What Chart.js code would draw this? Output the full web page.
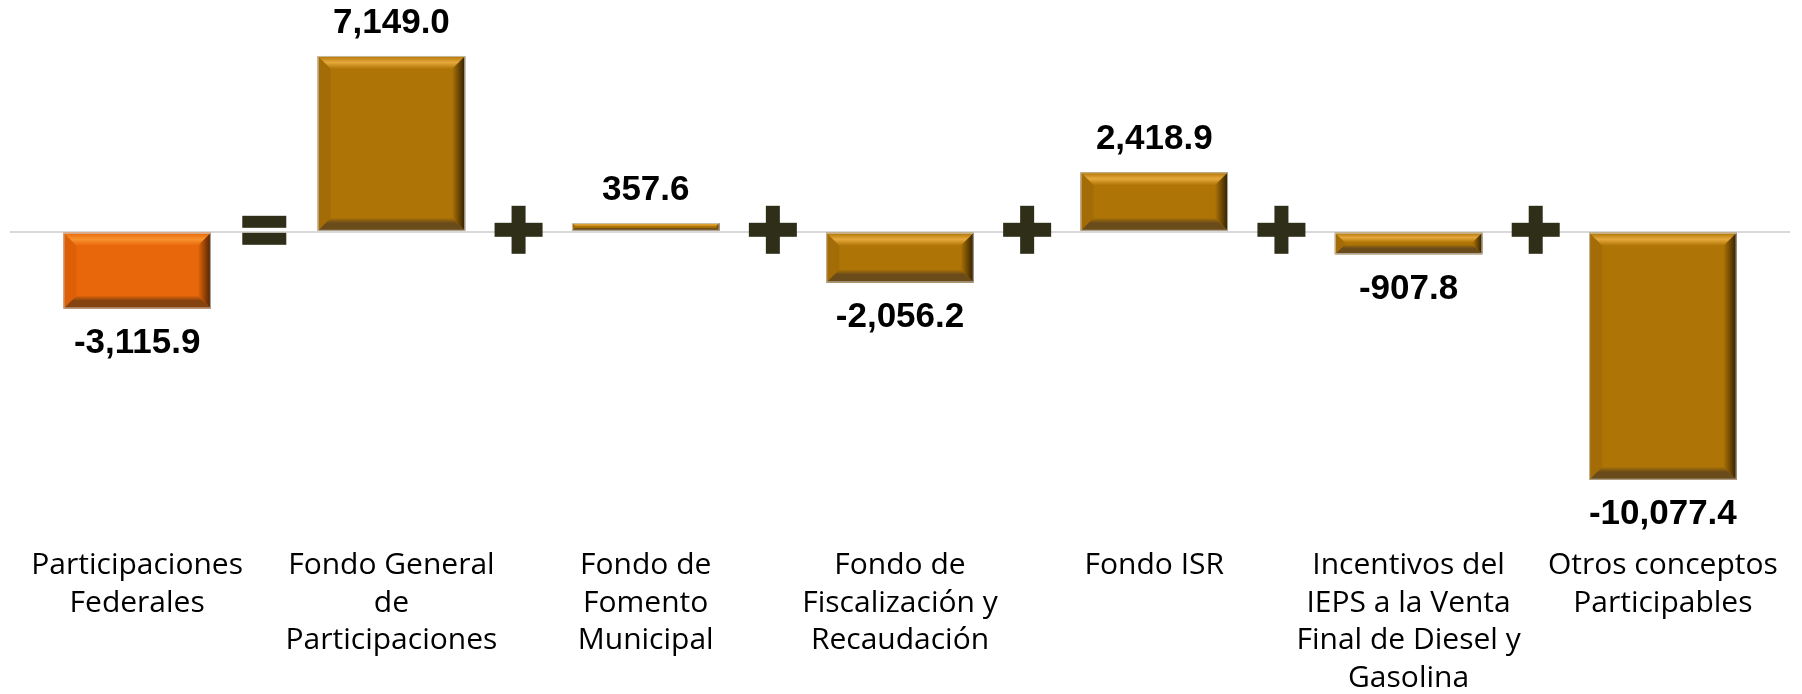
<!DOCTYPE html>
<html><head><meta charset="utf-8">
<script src="https://cdn.jsdelivr.net/npm/chart.js@4.4.0/dist/chart.umd.min.js"></script>
<style>
  html, body { margin: 0; padding: 0; background: #fff; }
  #wrap { position: relative; width: 1802px; height: 694px; }
</style>
</head>
<body>
<div id="wrap"><canvas id="myChart" width="1802" height="694"></canvas></div>
<script>
var categories = [
  ['Participaciones', 'Federales'],
  ['Fondo General', 'de', 'Participaciones'],
  ['Fondo de', 'Fomento', 'Municipal'],
  ['Fondo de', 'Fiscalización y', 'Recaudación'],
  ['Fondo ISR'],
  ['Incentivos del', 'IEPS a la Venta', 'Final de Diesel y', 'Gasolina'],
  ['Otros conceptos', 'Participables']
];
var values = [-3115.9, 7149.0, 357.6, -2056.2, 2418.9, -907.8, -10077.4];
var operators = ['=', '+', '+', '+', '+', '+'];

// bar looks: first bar is the total (orange), the rest are the components
var looks = {
  total: { body: '#E8670A', top: '#F8922E', bottom: '#85430F', right: '#4A2204', left: '#DD6008' },
  part:  { body: '#AE7405', top: '#E6A83C', bottom: '#6A4B1A', right: '#2E1E04', left: '#A46C06' }
};
function lookOf(i) { return i === 0 ? looks.total : looks.part; }

function fmt(v) {
  return v.toLocaleString('en-US', { minimumFractionDigits: 1, maximumFractionDigits: 1 });
}

var bevelPlugin = {
  id: 'bevel',
  afterDatasetsDraw: function (chart) {
    var ctx = chart.ctx;
    var meta = chart.getDatasetMeta(0);
    meta.data.forEach(function (bar, i) {
      var p = bar.getProps(['x', 'y', 'base', 'width'], true);
      var l = p.x - p.width / 2, r = p.x + p.width / 2;
      var t = Math.min(p.y, p.base), b = Math.max(p.y, p.base);
      var h = b - t;
      var s = Math.min(13, h / 2.2);
      var c = lookOf(i);
      ctx.save();
      // top
      var g = ctx.createLinearGradient(0, t, 0, t + s);
      g.addColorStop(0, c.body); g.addColorStop(0.5, c.top); g.addColorStop(1, c.body);
      ctx.fillStyle = g;
      ctx.beginPath(); ctx.moveTo(l, t); ctx.lineTo(r, t); ctx.lineTo(r - s, t + s); ctx.lineTo(l + s, t + s); ctx.closePath(); ctx.fill();
      // bottom
      g = ctx.createLinearGradient(0, b - s, 0, b);
      g.addColorStop(0, c.body); g.addColorStop(0.4, c.bottom); g.addColorStop(1, c.bottom);
      ctx.fillStyle = g;
      ctx.beginPath(); ctx.moveTo(l, b); ctx.lineTo(r, b); ctx.lineTo(r - s, b - s); ctx.lineTo(l + s, b - s); ctx.closePath(); ctx.fill();
      // left
      ctx.fillStyle = c.left;
      ctx.beginPath(); ctx.moveTo(l, t); ctx.lineTo(l + s, t + s); ctx.lineTo(l + s, b - s); ctx.lineTo(l, b); ctx.closePath(); ctx.fill();
      // right
      g = ctx.createLinearGradient(r - s, 0, r, 0);
      g.addColorStop(0, c.body); g.addColorStop(1, c.right);
      ctx.fillStyle = g;
      ctx.beginPath(); ctx.moveTo(r, t); ctx.lineTo(r - s, t + s); ctx.lineTo(r - s, b - s); ctx.lineTo(r, b); ctx.closePath(); ctx.fill();
      // thin outline
      ctx.strokeStyle = 'rgba(205,205,205,0.8)';
      ctx.lineWidth = 1;
      ctx.strokeRect(l + 0.5, t + 0.5, p.width - 1, h - 1);
      ctx.restore();
    });
  },
  afterDraw: function (chart) {
    var ctx = chart.ctx;
    var meta = chart.getDatasetMeta(0);
    var xs = chart.scales.x, ys = chart.scales.y;
    var zero = ys.getPixelForValue(0);
    ctx.save();
    // value labels
    ctx.font = 'bold 35px "Liberation Sans", sans-serif';
    ctx.fillStyle = '#000';
    ctx.textAlign = 'center';
    ctx.textBaseline = 'middle';
    meta.data.forEach(function (bar, i) {
      var v = values[i];
      var y = v >= 0 ? bar.y - 33 : bar.y + 35;
      ctx.fillText(fmt(v), bar.x, y);
    });
    // operator signs between the bars
    ctx.fillStyle = '#2F2E18';
    operators.forEach(function (op, i) {
      var cx = (xs.getPixelForValue(i) + xs.getPixelForValue(i + 1)) / 2;
      var cy = zero - 2;
      if (op === '=') {
        ctx.fillRect(cx - 22, cy - 14, 44, 12);
        ctx.fillRect(cx - 22, cy + 3, 44, 12);
      } else {
        ctx.fillRect(cx - 24, cy - 7, 48, 14);
        ctx.fillRect(cx - 7, cy - 24, 14, 48);
      }
    });
    ctx.restore();
  }
};

var ctx = document.getElementById('myChart');
var myChart = new Chart(ctx, {
  type: 'bar',
  data: {
    labels: categories,
    datasets: [{
      data: values,
      backgroundColor: values.map(function (v, i) { return lookOf(i).body; }),
      borderWidth: 0,
      barPercentage: 0.58,
      categoryPercentage: 1.0
    }]
  },
  options: {
    responsive: false,
    animation: false,
    layout: { padding: { left: 10, right: 12, top: 35, bottom: 0 } },
    plugins: { legend: { display: false }, tooltip: { enabled: false } },
    scales: {
      x: {
        grid: { display: false, drawTicks: false },
        border: { display: false },
        ticks: {
          color: '#000',
          padding: 20,
          maxRotation: 0,
          autoSkip: false,
          font: { family: '"Open Sans", sans-serif', size: 30, lineHeight: 1.25 }
        },
        afterFit: function (scale) { scale.height = 167; }
      },
      y: {
        display: true,
        min: -12000,
        max: 8000,
        ticks: { display: false, stepSize: 2000 },
        border: { display: false },
        grid: {
          drawTicks: false,
          lineWidth: 2,
          color: function (c) { return c.tick && c.tick.value === 0 ? '#D9D9D9' : 'rgba(0,0,0,0)'; }
        },
        afterFit: function (scale) { scale.width = 0; }
      }
    }
  },
  plugins: [bevelPlugin]
});
</script>
</body></html>
